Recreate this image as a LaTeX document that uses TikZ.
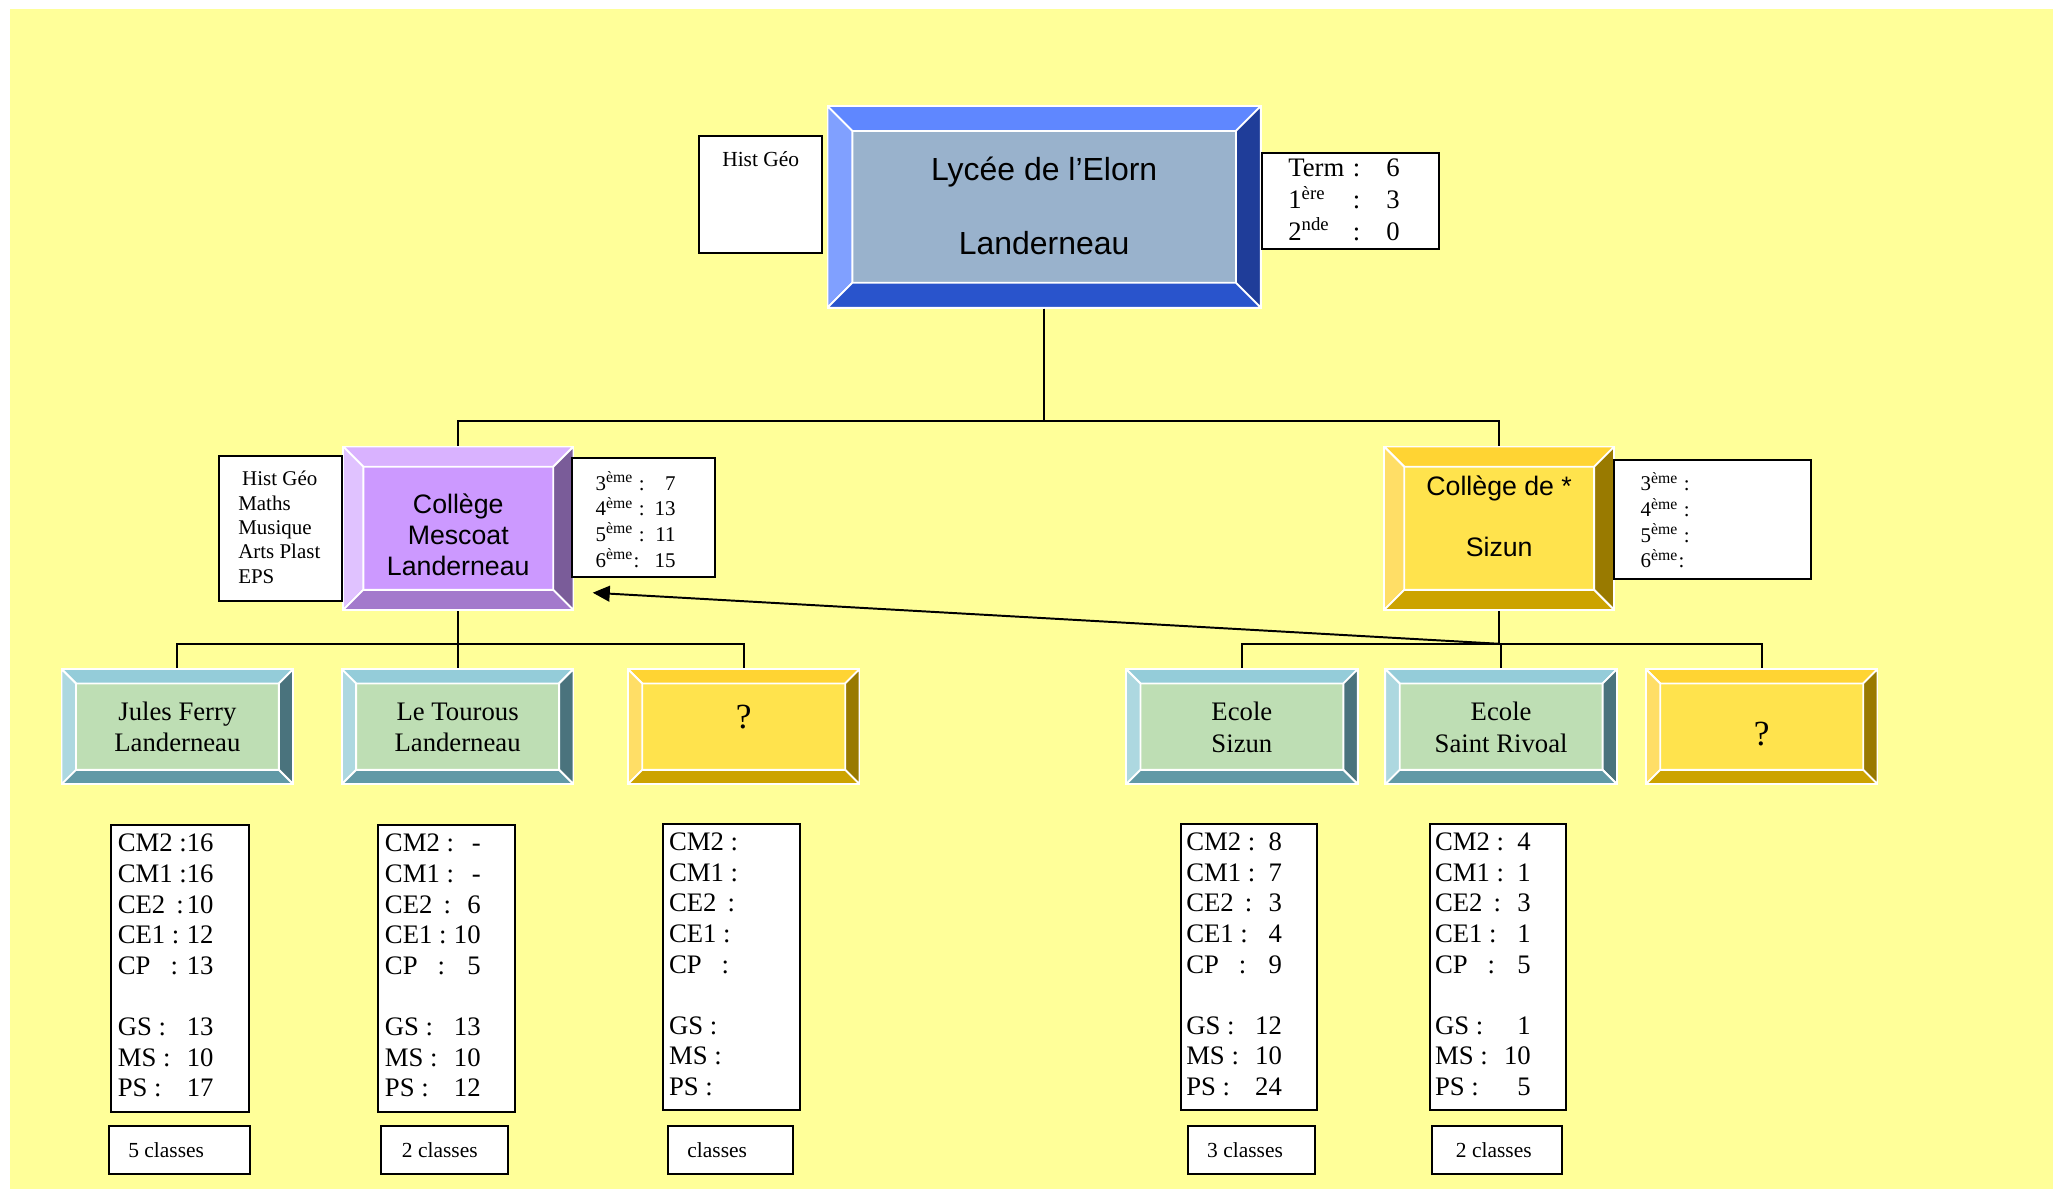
\documentclass[tikz,border=0pt]{standalone}
\usepackage{fontspec}
\setmainfont{Liberation Serif}
\newfontfamily\arialf{Liberation Sans}
\usetikzlibrary{arrows.meta}

\definecolor{bgy}{RGB}{255,255,153}
\definecolor{lyface}{RGB}{153,178,204}
\definecolor{lytop}{RGB}{95,135,255}
\definecolor{lyleft}{RGB}{128,160,255}
\definecolor{lyright}{RGB}{31,61,153}
\definecolor{lybot}{RGB}{41,84,204}
\definecolor{mface}{RGB}{204,153,255}
\definecolor{mtop}{RGB}{217,178,255}
\definecolor{mleft}{RGB}{224,194,255}
\definecolor{mright}{RGB}{122,92,153}
\definecolor{mbot}{RGB}{163,122,204}
\definecolor{yface}{RGB}{255,227,77}
\definecolor{ytop}{RGB}{255,212,51}
\definecolor{yleft}{RGB}{255,222,102}
\definecolor{yright}{RGB}{153,122,0}
\definecolor{ybot}{RGB}{204,163,0}
\definecolor{gface}{RGB}{190,222,180}
\definecolor{gtop}{RGB}{148,204,217}
\definecolor{gleft}{RGB}{173,216,224}
\definecolor{gright}{RGB}{74,115,125}
\definecolor{gbot}{RGB}{97,153,166}

\newcommand\shiftbox[2]{\raisebox{#1}[\height][\depth]{#2}}
\newcommand\ctext[3]{\raisebox{#1}[\height][\depth]{#2\begin{tabular}{@{}c@{}}#3\end{tabular}}}
\newcommand\dtab[8]{\begin{tabular*}{36.5pt}{@{}l@{\extracolsep{\fill}}r@{}}CM2 :&#1\\CM1 :&#2\\CE2 \,:&#3\\CE1 :&#4\\CP \ \ :&#5\\&\\GS :&#6\\MS :&#7\\PS :&#8\end{tabular*}}
\newcommand\trow[3]{\makebox[24.5pt][l]{#1}\makebox[3pt]{:}\makebox[15pt][r]{#3}}

\tikzset{
  bev/.style n args={6}{fill=#2, draw=white, line width=0.7pt, inner sep=0pt,
    path picture={
      \path (path picture bounding box.north west) coordinate (bNW)
            (path picture bounding box.south east) coordinate (bSE);
      \path (bNW -| bSE) coordinate (bNE) (bNW |- bSE) coordinate (bSW);
      \path ([xshift=#1,yshift=-#1]bNW) coordinate (iNW)
            ([xshift=-#1,yshift=-#1]bNE) coordinate (iNE)
            ([xshift=-#1,yshift=#1]bSE) coordinate (iSE)
            ([xshift=#1,yshift=#1]bSW) coordinate (iSW);
      \filldraw[fill=#3,draw=white,line width=0.7pt] (bNW)--(bNE)--(iNE)--(iNW)--cycle;
      \filldraw[fill=#4,draw=white,line width=0.7pt] (bNW)--(iNW)--(iSW)--(bSW)--cycle;
      \filldraw[fill=#5,draw=white,line width=0.7pt] (bNE)--(bSE)--(iSE)--(iNE)--cycle;
      \filldraw[fill=#6,draw=white,line width=0.7pt] (bSW)--(iSW)--(iSE)--(bSE)--cycle;
    }},
  lyc/.style={bev={9.5pt}{lyface}{lytop}{lyleft}{lyright}{lybot}, minimum width=165.5pt, minimum height=77pt},
  colm/.style={bev={7.75pt}{mface}{mtop}{mleft}{mright}{mbot}, minimum width=88pt, minimum height=62.5pt},
  coly/.style={bev={7.75pt}{yface}{ytop}{yleft}{yright}{ybot}, minimum width=88pt, minimum height=62.5pt},
  schg/.style={bev={5.5pt}{gface}{gtop}{gleft}{gright}{gbot}, minimum width=88.5pt, minimum height=44pt},
  schy/.style={bev={5.5pt}{yface}{ytop}{yleft}{yright}{ybot}, minimum width=88.5pt, minimum height=44pt},
  wbox/.style={draw=black, fill=white, line width=0.75pt, inner sep=0pt},
  dbox/.style={wbox, minimum height=109.5pt, font=\fontsize{10.2}{11.7}\selectfont},
  cbox/.style={wbox, minimum height=18.5pt, font=\fontsize{8.2}{10}\selectfont},
  conn/.style={draw=black, line width=0.75pt},
}

\begin{document}
\begin{tikzpicture}[x=0.5pt,y=-0.5pt]
\useasboundingbox (0,0) rectangle (1568,908);
\fill[bgy] (8,7) rectangle (1568,908);

% top level
\node[lyc] (lycee) at (797.5,158)
  {\ctext{1.5pt}{\arialf\fontsize{12.2}{28}\selectfont}{Lycée de l’Elorn\\Landerneau}};
\node[wbox, minimum width=47pt, minimum height=44.5pt, text height=11.5pt, text depth=33pt,
  font=\fontsize{8.2}{10}\selectfont] (histlyc) at (581,148.5) {Hist Géo};
\node[wbox, minimum width=67.5pt, minimum height=36.5pt, font=\fontsize{10.2}{11.7}\selectfont] (term) at (1031.5,153.5)
  {\makebox[67.5pt][l]{\hspace{10pt}\shiftbox{-0.6pt}{\begin{tabular}{@{}l@{}}\trow{Term}{:}{6}\\\trow{1\textsuperscript{ère}}{:}{3}\\\trow{2\textsuperscript{nde}}{:}{0}\end{tabular}}}};

% colleges
\node[colm] (mescoat) at (350,403.5)
  {\ctext{-3.8pt}{\arialf\fontsize{10.2}{11.75}\selectfont}{Collège\\Mescoat\\Landerneau}};
\node[coly] (sizun) at (1145,403.5)
  {\ctext{5.5pt}{\arialf\fontsize{10.2}{23.5}\selectfont}{Collège de *\\Sizun}};
\node[wbox, minimum width=47pt, minimum height=55.5pt, font=\fontsize{8}{9.35}\selectfont] (subj) at (214,403.5)
  {\makebox[47pt][l]{\hspace{7.5pt}\shiftbox{-0.5pt}{\begin{tabular}{@{}l@{}}\hspace{1.5pt}Hist Géo\\Maths\\Musique\\Arts Plast\\EPS\end{tabular}}}};
\node[wbox, minimum width=54.5pt, minimum height=45.5pt, font=\fontsize{8}{9.3}\selectfont] (mgrades) at (491.5,395.5)
  {\makebox[54.5pt][l]{\hspace{9pt}\shiftbox{-2pt}{\begin{tabular*}{30.5pt}{@{}l@{\extracolsep{\fill}}r@{}}3\textsuperscript{ème} :&7\\4\textsuperscript{ème} :&13\\5\textsuperscript{ème} :&11\\6\textsuperscript{ème}:&15\end{tabular*}}}};
\node[wbox, minimum width=75pt, minimum height=45.5pt, font=\fontsize{8}{9.3}\selectfont] (sgrades) at (1308,396.5)
  {\makebox[75pt][l]{\hspace{10pt}\shiftbox{-1.8pt}{\begin{tabular}{@{}l@{}}3\textsuperscript{ème} :\\4\textsuperscript{ème} :\\5\textsuperscript{ème} :\\6\textsuperscript{ème}:\end{tabular}}}};

% schools
\node[schg] (jf) at (135.5,555) {\ctext{-1.2pt}{\fontsize{10.2}{12}\selectfont}{Jules Ferry\\Landerneau}};
\node[schg] (tour) at (349.5,555) {\ctext{-1.2pt}{\fontsize{10.2}{12}\selectfont}{Le Tourous\\Landerneau}};
\node[schy] (q1) at (568,555) {\ctext{2pt}{\fontsize{13.5}{14}\selectfont}{?}};
\node[schg] (es) at (948.5,555) {\ctext{-1.4pt}{\fontsize{10.2}{12}\selectfont}{Ecole\\Sizun}};
\node[schg] (esr) at (1146.5,555) {\ctext{-1.4pt}{\fontsize{10.2}{12}\selectfont}{Ecole\\Saint Rivoal}};
\node[schy] (q2) at (1345.5,555) {\ctext{-4.5pt}{\fontsize{13.5}{14}\selectfont}{?}};

% data boxes
\node[dbox] (d1) at (137.5,739.5) {\makebox[52.5pt][l]{\hspace{2.5pt}\dtab{16}{16}{10}{12}{13}{13}{10}{17}}};
\node[dbox] (d2) at (341,739.5) {\makebox[52pt][l]{\hspace{2.5pt}\dtab{-}{-}{6}{10}{5}{13}{10}{12}}};
\node[dbox] (d3) at (558.5,738.5) {\makebox[52.5pt][l]{\hspace{2.5pt}\dtab{}{}{}{}{}{}{}{}}};
\node[dbox] (d4) at (954,738.5) {\makebox[52pt][l]{\hspace{2pt}\dtab{8}{7}{3}{4}{9}{12}{10}{24}}};
\node[dbox] (d5) at (1144,738.5) {\makebox[52pt][l]{\hspace{2pt}\dtab{4}{1}{3}{1}{5}{1}{10}{5}}};

% classes boxes
\node[cbox] (c1) at (137,878.5) {\makebox[54pt][l]{\hspace{7.5pt}5 classes}};
\node[cbox] (c2) at (339.5,878.5) {\makebox[48.5pt][l]{\hspace{8pt}2 classes}};
\node[cbox] (c3) at (558,878.5) {\makebox[48pt][l]{\hspace{7.5pt}classes}};
\node[cbox] (c4) at (955.5,878.5) {\makebox[48.5pt][l]{\hspace{7.5pt}3 classes}};
\node[cbox] (c5) at (1143.5,878.5) {\makebox[49.5pt][l]{\hspace{9pt}2 classes}};

% connectors
\draw[conn] (lycee.south) -- ++(0,86) -| (mescoat.north);
\draw[conn] (lycee.south) -- ++(0,86) -| (sizun.north);
\draw[conn] (mescoat.south) -- ++(0,25) -| (jf.north);
\draw[conn] (mescoat.south) -- ++(0,25) -| (tour.north);
\draw[conn] (mescoat.south) -- ++(0,25) -| (q1.north);
\draw[conn] (sizun.south) -- ++(0,25) coordinate (sj) -| (es.north);
\draw[conn] (sj) -| (esr.north);
\draw[conn] (sj) -| (q2.north);
\draw[conn, -{Triangle[length=6.5pt,width=6pt]}] (sj) -- ([xshift=7pt,yshift=7pt]mescoat.south east);
\end{tikzpicture}
\end{document}
